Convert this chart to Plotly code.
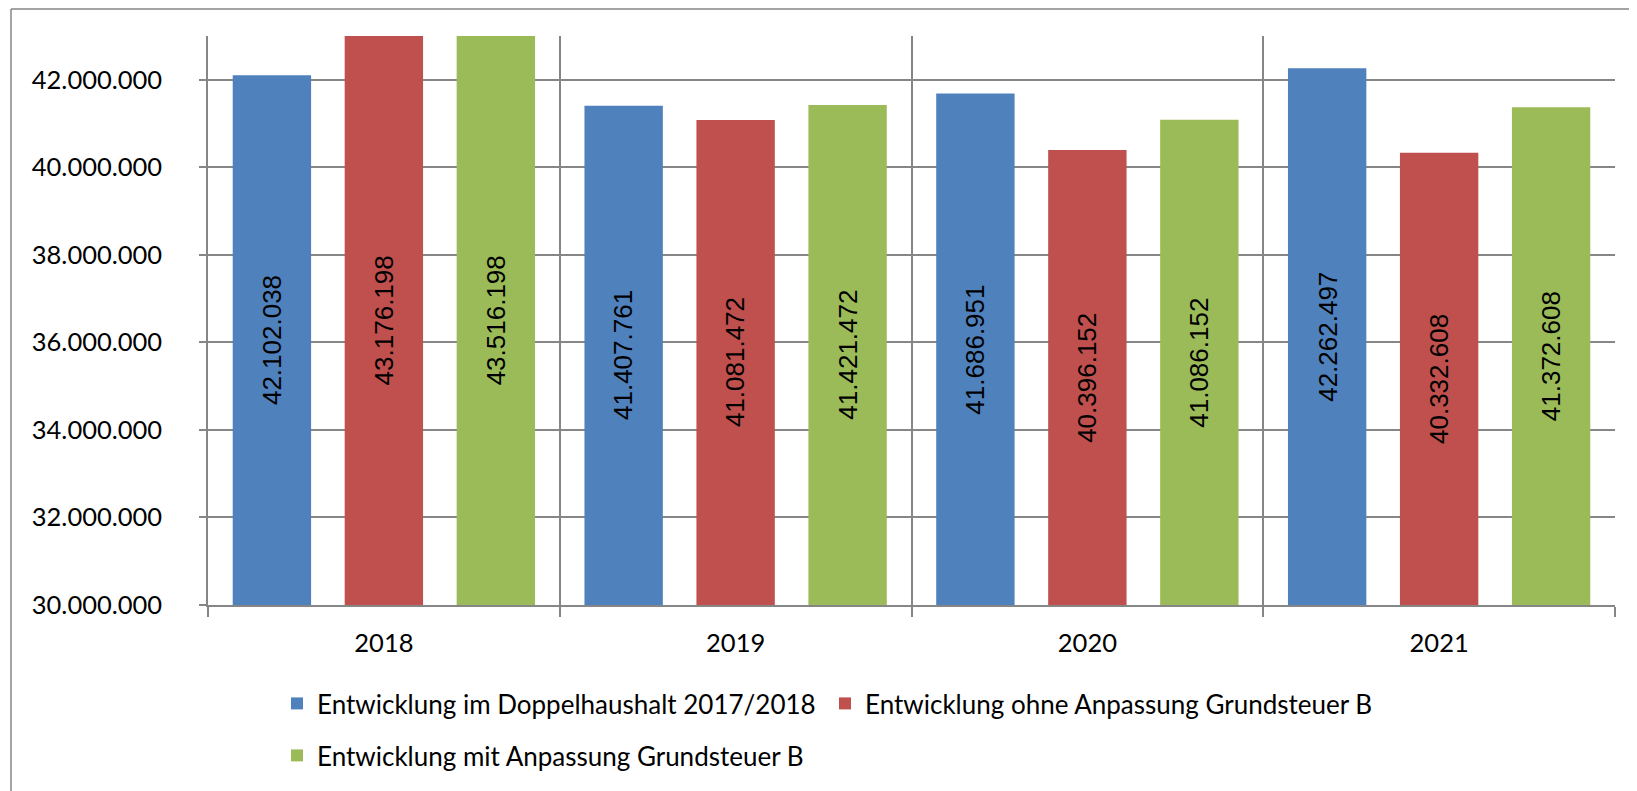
import plotly.graph_objects as go

years = ["2018", "2019", "2020", "2021"]
series_names = [
    "Entwicklung im Doppelhaushalt 2017/2018",
    "Entwicklung ohne Anpassung Grundsteuer B",
    "Entwicklung mit Anpassung Grundsteuer B",
]
doppelhaushalt = [42102038, 41407761, 41686951, 42262497]
ohne_anpassung = [43176198, 41081472, 40396152, 40332608]
mit_anpassung = [43516198, 41421472, 41086152, 41372608]
series_values = [doppelhaushalt, ohne_anpassung, mit_anpassung]
colors = ["#4F81BD", "#C0504D", "#9BBB59"]
legend_ids = ["legend", "legend", "legend2"]

y_min, y_max, y_step = 30000000, 43000000, 2000000

# the page body adds an 8px offset, so the figure is 8px smaller than the window
W, H = 1629, 783
ML, MR, MT, MB = 200, 22, 28, 186
BARGAP, BARGROUPGAP = 0.045, 0.30

fig = go.Figure()
for name, vals, col, lg in zip(series_names, series_values, colors, legend_ids):
    fig.add_trace(go.Bar(
        x=years, y=vals, name=name, legend=lg,
        marker=dict(color=col, line=dict(width=0)),
        textposition="none", hoverinfo="x+y+name",
    ))

pw = W - ML - MR
ph = H - MT - MB
slot_px = pw / len(years) * (1 - BARGAP) / len(series_values)

def fmt(v):
    return f"{v:,d}".replace(",", ".")

# value labels, centred in the visible part of each bar
for i, vals in enumerate(series_values):
    for j, v in enumerate(vals):
        fig.add_annotation(
            x=j, y=(y_min + min(v, y_max)) / 2, xref="x", yref="y",
            text=fmt(v), showarrow=False, textangle=-90,
            xshift=(i - (len(series_values) - 1) / 2) * slot_px,
            font=dict(family="Liberation Sans, Arial, sans-serif", size=26, color="black"),
        )

grid_col = "#868686"
font_main = "Lato, Calibri, sans-serif"

fig.update_layout(
    width=W, height=H,
    margin=dict(l=ML, r=MR, t=MT, b=MB, pad=0),
    paper_bgcolor="white", plot_bgcolor="white",
    separators=",.",
    barmode="group", bargap=BARGAP, bargroupgap=BARGROUPGAP,
    font=dict(family=font_main, size=25.5, color="black"),
    legend=dict(
        orientation="h", xref="container", yref="container",
        x=269 / W, y=1 - 672 / H, xanchor="left", yanchor="top",
        entrywidth=503, entrywidthmode="pixels",
        font=dict(family=font_main, size=26, color="black"),
        bgcolor="rgba(0,0,0,0)", borderwidth=0,
    ),
    legend2=dict(
        orientation="h", xref="container", yref="container",
        x=269 / W, y=1 - 724 / H, xanchor="left", yanchor="top",
        font=dict(family=font_main, size=26, color="black"),
        bgcolor="rgba(0,0,0,0)", borderwidth=0,
    ),
    xaxis=dict(
        type="category", tickson="boundaries",
        range=[-0.5, len(years) - 0.5],
        showgrid=True, gridcolor=grid_col, gridwidth=1.5,
        showline=True, linecolor=grid_col, linewidth=1.5,
        ticks="outside", ticklen=10, tickcolor=grid_col, tickwidth=1.5,
        ticklabelstandoff=15,
        tickfont=dict(family=font_main, size=25.5, color="black"),
    ),
    yaxis=dict(
        range=[y_min, y_max], tick0=y_min, dtick=y_step, tickformat=",d",
        showgrid=True, gridcolor=grid_col, gridwidth=1.5,
        showline=True, linecolor=grid_col, linewidth=1.5,
        ticks="outside", ticklen=7, tickcolor=grid_col, tickwidth=1.5,
        ticklabelstandoff=32, zeroline=False,
        tickfont=dict(family=font_main, size=25.5, color="black"),
    ),
)

# outer chart frame (left and top edges visible in the reference)
def px_x(p):
    return (p - ML) / pw
def px_y(p):
    return (H - MB - p) / ph
frame = dict(color=grid_col, width=1.5)
fig.add_shape(type="line", xref="paper", yref="paper",
              x0=px_x(3), x1=px_x(W + 5), y0=px_y(1), y1=px_y(1), line=frame)
fig.add_shape(type="line", xref="paper", yref="paper",
              x0=px_x(3), x1=px_x(3), y0=px_y(1), y1=px_y(H + 5), line=frame)

fig.write_html("out.html")
